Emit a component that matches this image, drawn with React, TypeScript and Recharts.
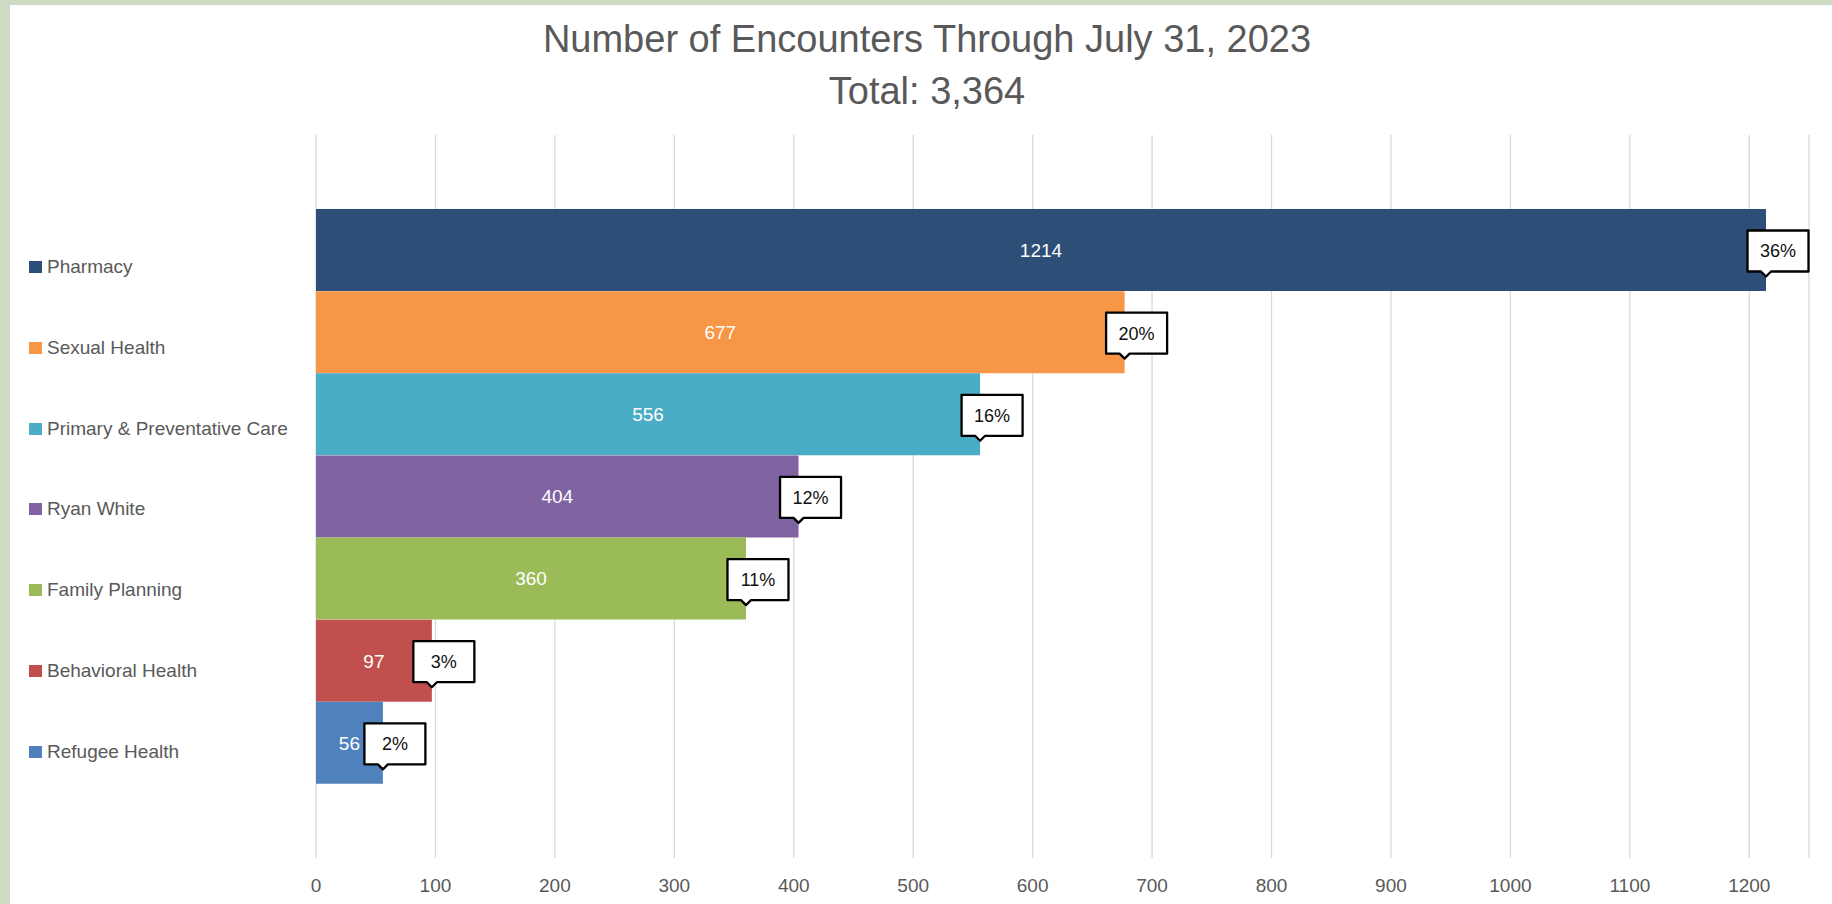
import React from "react";
import {
  BarChart,
  Bar,
  XAxis,
  YAxis,
  CartesianGrid,
  Cell,
  LabelList,
} from "recharts";

const categories = [
  "Pharmacy",
  "Sexual Health",
  "Primary & Preventative Care",
  "Ryan White",
  "Family Planning",
  "Behavioral Health",
  "Refugee Health",
];
const encounters = [1214, 677, 556, 404, 360, 97, 56];
const shares = ["36%", "20%", "16%", "12%", "11%", "3%", "2%"];
const colors = [
  "#2d4e76",
  "#f79646",
  "#4bacc6",
  "#8064a2",
  "#9bbb59",
  "#c0504d",
  "#4f81bd",
];
const xTicks = [0, 100, 200, 300, 400, 500, 600, 700, 800, 900, 1000, 1100, 1200];

const FONT = "'Liberation Sans', Arial, sans-serif";
const GREY = "#595959";

const data = categories.map((name, i) => ({
  name,
  value: encounters[i],
  share: shares[i],
}));

// white count centred in each bar
function InnerLabel(props: any) {
  const { x, y, width, height, value } = props;
  return (
    <text
      x={Number(x) + Number(width) / 2}
      y={Number(y) + Number(height) / 2}
      dy="0.36em"
      textAnchor="middle"
      fontSize={19}
      fontFamily={FONT}
      fill="#ffffff"
    >
      {value}
    </text>
  );
}

// boxed percentage with a little pointer at the bar end
function Callout(props: any) {
  const { x, y, width, height, value } = props;
  const tipX = Number(x) + Number(width);
  const tipY = Number(y) + Number(height) - 14.5;
  const bottom = tipY - 5;
  const top = bottom - 41;
  const left = tipX - 18.5;
  const right = left + 61;
  const d = `M${left},${top} H${right} V${bottom} H${tipX + 5} L${tipX},${tipY} L${tipX - 5},${bottom} H${left} Z`;
  return (
    <g>
      <path d={d} fill="#ffffff" stroke="#000000" strokeWidth={2.3} strokeLinejoin="round" />
      <text
        x={(left + right) / 2}
        y={(top + bottom) / 2}
        dy="0.36em"
        textAnchor="middle"
        fontSize={18}
        fontFamily={FONT}
        fill="#111111"
      >
        {value}
      </text>
    </g>
  );
}

export default function App() {
  return (
    <div
      style={{
        position: "absolute",
        left: 0,
        top: 0,
        width: 1832,
        height: 904,
        background: "#cddbc4",
        fontFamily: FONT,
      }}
    >
      <div
        style={{
          position: "absolute",
          left: 10,
          top: 5,
          width: 1822,
          height: 899,
          background: "#ffffff",
        }}
      >
        <div
          style={{
            position: "absolute",
            left: 0,
            top: 9,
            width: 1834,
            textAlign: "center",
            fontSize: 38,
            lineHeight: "51.7px",
            color: GREY,
          }}
        >
          <div>Number of Encounters Through July 31, 2023</div>
          <div>Total: 3,364</div>
        </div>

        {/* legend sits on the left, separate from the bars */}
        {categories.map((name, i) => (
          <div
            key={name}
            style={{
              position: "absolute",
              left: 19,
              top: 261.9 + i * 80.8 - 11,
              height: 22,
              display: "flex",
              alignItems: "center",
              fontSize: 19,
              color: GREY,
              whiteSpace: "nowrap",
            }}
          >
            <span
              style={{
                display: "inline-block",
                width: 12.5,
                height: 12,
                background: colors[i],
                marginRight: 5.5,
              }}
            />
            {name}
          </div>
        ))}

        <div style={{ position: "absolute", left: 0, top: 0 }}>
          <BarChart
            width={1822}
            height={899}
            data={data}
            layout="vertical"
            barCategoryGap={0}
            margin={{ top: 130, right: 23, bottom: 0, left: 306 }}
          >
            <CartesianGrid horizontal={false} stroke="#d9d9d9" strokeWidth={1.3} />
            <XAxis
              type="number"
              domain={[0, 1250]}
              ticks={xTicks}
              interval={0}
              axisLine={false}
              tickLine={false}
              tickSize={0}
              tickMargin={21}
              height={46}
              tick={{ fontSize: 19, fill: GREY, fontFamily: FONT }}
            />
            <YAxis
              type="category"
              dataKey="name"
              hide
              padding={{ top: 74, bottom: 74 }}
            />
            <Bar dataKey="value" isAnimationActive={false}>
              {data.map((d, i) => (
                <Cell key={d.name} fill={colors[i]} />
              ))}
              <LabelList dataKey="value" content={InnerLabel} />
              <LabelList dataKey="share" content={Callout} />
            </Bar>
          </BarChart>
        </div>
      </div>
    </div>
  );
}
